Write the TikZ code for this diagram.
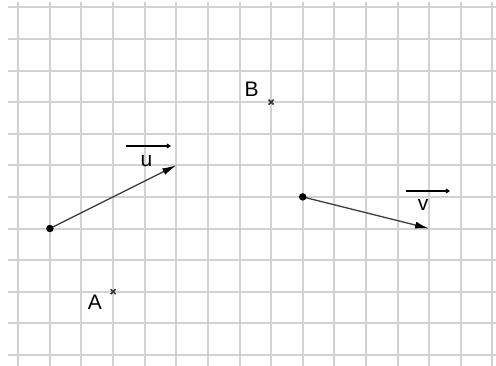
\documentclass[tikz,border=0pt]{standalone}
\usepackage{fontspec}
\setmainfont{Liberation Sans}
\usetikzlibrary{arrows.meta}
\definecolor{gridgray}{HTML}{D2D2D2}
\definecolor{vecgray}{HTML}{404040}
\begin{document}
\begin{tikzpicture}[x=31.6pt,y=-31.6pt,
  gridline/.style={draw=gridgray,line width=2pt},
  vecline/.style={draw=vecgray,line width=1.3pt,-{Latex[length=14pt,width=7pt,fill=black,color=black]}},
  dotpt/.style={circle,fill=black,inner sep=0pt,minimum size=7.5pt},
  crossmark/.style={draw=black!80,line width=1.5pt},
  lbl/.style={font=\fontsize{21}{21}\selectfont,inner sep=0pt},
  smallvec/.style={draw=black,line width=1.1pt,-{Straight Barb[length=3pt,width=4pt]}}]
\useasboundingbox (-0.579,-0.231) rectangle (15.117,11.32);
% grid
\foreach \k in {0,...,11} {\draw[gridline] (-0.326,\k) -- (15.2,\k);}
\foreach \k in {0,...,15} {\draw[gridline] (\k,-0.168) -- (\k,11.4);}
% points
\coordinate (uS) at (1,7);
\coordinate (uE) at (5,5);
\coordinate (vS) at (9,6);
\coordinate (vE) at (13,7);
\coordinate (A) at (3,9);
\coordinate (B) at (8,3);
% vectors
\draw[vecline] (uS) -- (uE);
\draw[vecline] (vS) -- (vE);
\node[dotpt] (uSdot) at (uS) {};
\node[dotpt] (vSdot) at (vS) {};
% crosses
\draw[crossmark] ([shift={(-2.5pt,-2.5pt)}]A) -- ([shift={(2.5pt,2.5pt)}]A) ([shift={(-2.5pt,2.5pt)}]A) -- ([shift={(2.5pt,-2.5pt)}]A);
\draw[crossmark] ([shift={(-2.5pt,-2.5pt)}]B) -- ([shift={(2.5pt,2.5pt)}]B) ([shift={(-2.5pt,2.5pt)}]B) -- ([shift={(2.5pt,-2.5pt)}]B);
% labels
\node[lbl] (Alab) at (2.427,9.326) {A};
\node[lbl] (Blab) at (7.38,2.585) {B};
\node[lbl] (ulab) at (4.057,4.85) {u};
\node[lbl] (vlab) at (12.807,6.24) {v};
\coordinate (uoL) at (3.41,4.389);
\coordinate (uoR) at (4.83,4.389);
\coordinate (voL) at (12.27,5.813);
\coordinate (voR) at (13.66,5.813);
\draw[smallvec] (uoL) -- (uoR);
\draw[smallvec] (voL) -- (voR);
\end{tikzpicture}
\end{document}
